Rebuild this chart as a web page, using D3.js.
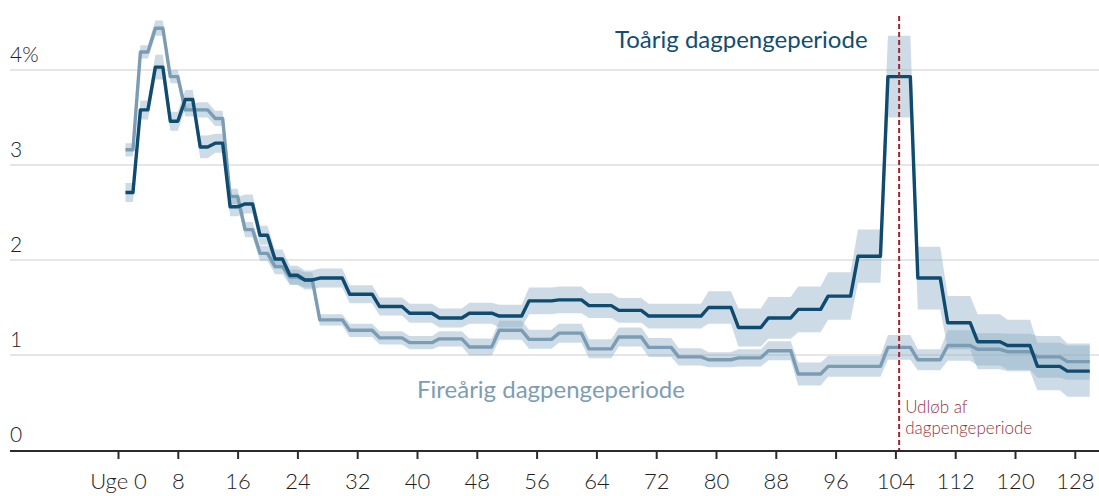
<!DOCTYPE html>
<html><head><meta charset="utf-8">
<script src="https://cdn.jsdelivr.net/npm/d3@7/dist/d3.min.js"></script>
<style>
body{margin:0;background:#fff}
svg{display:block;font-family:Lato,"Open Sans",sans-serif}
</style>
</head><body>
<svg id="chart" width="1099" height="496"></svg>
<script>
// Week at which each estimation bin starts (bins end where the next one starts)
const binStart = [1,3,5,7,9,11,13,15,17,19,21,23,25,
  27,31,35,39,43,47,51,55,59,63,67,71,75,79,83,87,91,95,99,103,107,111,115,119,123,127];
const binEnd = 131;

// Toårig dagpengeperiode (%), with half-width of confidence band
const toarigValue = [2.71,3.58,4.03,3.46,3.69,3.19,3.23,2.56,2.59,2.26,2.01,1.84,1.79,
  1.81,1.64,1.51,1.44,1.39,1.44,1.41,1.57,1.58,1.52,1.47,1.41,1.41,1.50,1.29,1.39,1.48,1.62,2.04,3.93,1.81,1.34,1.14,1.10,0.88,0.83];
const toarigCI = [0.10,0.10,0.13,0.10,0.10,0.12,0.10,0.10,0.10,0.10,0.10,0.10,0.10,
  0.10,0.095,0.095,0.10,0.10,0.11,0.12,0.14,0.14,0.13,0.13,0.13,0.13,0.17,0.20,0.22,0.24,0.25,0.28,0.43,0.33,0.28,0.29,0.27,0.25,0.27];

// Fireårig dagpengeperiode (%)
const firearigValue = [3.16,4.19,4.44,3.93,3.58,3.58,3.49,2.67,2.32,2.07,1.93,1.82,1.79,
  1.37,1.26,1.18,1.13,1.17,1.085,1.26,1.165,1.23,1.065,1.19,1.08,0.98,0.95,0.97,1.045,0.80,0.88,0.88,1.08,0.95,1.10,1.06,1.035,0.98,0.93];
const firearigCI = [0.07,0.07,0.08,0.07,0.07,0.08,0.08,0.08,0.08,0.08,0.08,0.08,0.08,
  0.06,0.07,0.07,0.07,0.08,0.09,0.10,0.10,0.10,0.10,0.10,0.10,0.09,0.08,0.09,0.10,0.12,0.11,0.11,0.13,0.11,0.16,0.17,0.19,0.22,0.19];

const xTicks = [0,8,16,24,32,40,48,56,64,72,80,88,96,104,112,120,128];
const yTicks = [0,1,2,3,4];
const yTickLabels = ["0","1","2","3","4%"];
const expiryWeek = 104.5;
const labelToarig = "Toårig dagpengeperiode";
const labelFirearig = "Fireårig dagpengeperiode";
const labelExpiry = ["Udløb af","dagpengeperiode"];

const W = 1099, H = 496;
const svg = d3.select("#chart");
const x = d3.scaleLinear().domain([0,128]).range([118,1074.8]);
const y = d3.scaleLinear().domain([0,4]).range([450,70]);

function steps(vals, ci){
  const pts = [];
  binStart.forEach((s,i)=>{
    const e = (i < binStart.length-1 ? binStart[i+1] : binEnd) - 1;
    const v = vals[i], c = ci[i];
    pts.push({w:s,v,lo:v-c,hi:v+c});
    pts.push({w:e,v,lo:v-c,hi:v+c});
  });
  return pts;
}
const dark = steps(toarigValue, toarigCI);
const light = steps(firearigValue, firearigCI);

// gridlines
svg.append("g").selectAll("line").data(yTicks.filter(d=>d>0)).join("line")
  .attr("x1",10).attr("x2",W).attr("y1",d=>y(d)).attr("y2",d=>y(d))
  .attr("stroke","#dedede").attr("stroke-width",1.5);

// y labels
svg.append("g").selectAll("text").data(yTicks).join("text")
  .attr("x",10).attr("y",d=>y(d)-8)
  .attr("font-size",21).attr("font-weight",300).attr("fill","#222")
  .text((d,i)=>yTickLabels[i]);

// bands
const area = d3.area().x(d=>x(d.w)).y0(d=>y(d.lo)).y1(d=>y(d.hi));
svg.append("path").datum(light).attr("d",area).attr("fill","#8fb0c6").attr("fill-opacity",0.45);
svg.append("path").datum(dark).attr("d",area).attr("fill","#8fb0c6").attr("fill-opacity",0.45);

// lines
const line = d3.line().x(d=>x(d.w)).y(d=>y(d.v));
svg.append("path").datum(light).attr("d",line).attr("fill","none")
  .attr("stroke","#7b9cb3").attr("stroke-width",3.4).attr("stroke-linejoin","round");
svg.append("path").datum(dark).attr("d",line).attr("fill","none")
  .attr("stroke","#0f4a6f").attr("stroke-width",3.4).attr("stroke-linejoin","round");

// x axis
svg.append("line").attr("x1",10).attr("x2",W).attr("y1",y(0)+1).attr("y2",y(0)+1)
  .attr("stroke","#2b2b2b").attr("stroke-width",2.2);
const xAxis = d3.axisBottom(x).tickValues(xTicks).tickSize(8).tickSizeOuter(0)
  .tickFormat(d=> d===0 ? "Uge 0" : String(d));
const gx = svg.append("g").attr("transform",`translate(0,${y(0)+1})`).call(xAxis);
gx.select(".domain").remove();
gx.selectAll(".tick line").attr("stroke","#2b2b2b").attr("stroke-width",2);
gx.selectAll(".tick text").attr("font-size",22).attr("font-weight",300).attr("fill","#1e1e1e")
  .attr("font-family","Lato,'Open Sans',sans-serif").attr("y",38).attr("dy",0);

// expiry marker
svg.append("line").attr("x1",x(expiryWeek)).attr("x2",x(expiryWeek))
  .attr("y1",16).attr("y2",y(0))
  .attr("stroke","#9e2431").attr("stroke-width",2).attr("stroke-dasharray","5,3");
svg.append("text").attr("x",x(expiryWeek)+6).attr("y",413)
  .attr("font-size",17).attr("font-weight",300).attr("fill","#9a2f3b").text(labelExpiry[0]);
svg.append("text").attr("x",x(expiryWeek)+6).attr("y",434)
  .attr("font-size",17).attr("font-weight",300).attr("fill","#9a2f3b").text(labelExpiry[1]);

// series labels
svg.append("text").attr("x",615).attr("y",48).attr("font-size",24)
  .attr("fill","#124d72").text(labelToarig);
svg.append("text").attr("x",417).attr("y",398).attr("font-size",24)
  .attr("fill","#7d9db4").text(labelFirearig);
</script>
</body></html>
